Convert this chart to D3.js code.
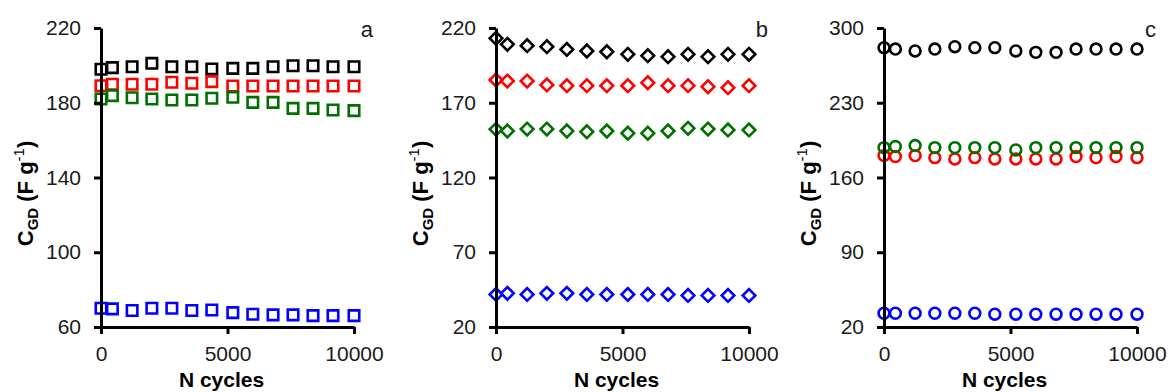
<!DOCTYPE html>
<html>
<head>
<meta charset="utf-8">
<script src="https://cdn.jsdelivr.net/npm/d3@7"></script>
<style>
  body { margin: 0; background: #fff; }
  svg { font-family: Arial, "Liberation Sans", sans-serif; }
</style>
</head>
<body>
<div id="chart"></div>
<script>
// cycle number of each measurement (same for all three panels)
const cycles = [0, 450, 1230, 2010, 2800, 3590, 4380, 5210, 6000, 6800, 7590, 8380, 9170, 10000];
const seriesColors = ["#000000", "#ff0000", "#007000", "#0000ff"];
const xTicks = [0, 5000, 10000];

// panel a (squares)
const aBlack = [197.9, 198.8, 199.3, 201.1, 199.3, 199.3, 198.1, 198.4, 198.4, 199.3, 199.8, 199.8, 199.3, 199.3];
const aRed   = [189.1, 189.9, 189.9, 189.9, 191.0, 190.4, 191.3, 189.0, 189.0, 189.0, 189.0, 189.0, 189.0, 189.0];
const aGreen = [182.0, 183.8, 182.7, 182.0, 181.5, 181.5, 182.4, 182.9, 180.2, 180.2, 177.0, 177.0, 176.1, 175.8];
const aBlue  = [70.0, 69.7, 68.8, 70.0, 70.0, 68.8, 69.1, 67.7, 66.8, 66.5, 66.5, 66.1, 66.1, 66.1];
const aTicks = [60, 100, 140, 180, 220];

// panel b (diamonds)
const bBlack = [213.1, 209.1, 208.2, 207.5, 205.7, 204.6, 204.1, 202.4, 201.5, 200.8, 202.4, 200.8, 202.4, 202.4];
const bRed   = [185.2, 184.5, 184.5, 181.9, 181.4, 181.4, 181.4, 181.4, 183.4, 181.4, 181.4, 180.7, 180.1, 181.4];
const bGreen = [152.2, 151.1, 152.4, 152.4, 151.1, 150.6, 151.1, 149.6, 149.6, 151.1, 152.9, 152.4, 151.8, 151.8];
const bBlue  = [41.8, 42.5, 41.8, 42.5, 42.5, 41.8, 41.8, 41.8, 41.8, 41.8, 41.1, 41.1, 41.1, 41.1];
const bTicks = [20, 70, 120, 170, 220];

// panel c (circles)
const cBlack = [281.6, 280.3, 278.5, 280.3, 282.5, 281.6, 281.6, 278.5, 277.2, 277.2, 280.3, 280.3, 280.3, 280.3];
const cRed   = [180.5, 179.6, 180.5, 178.6, 177.4, 178.6, 177.4, 177.4, 177.4, 177.4, 179.6, 178.6, 179.6, 178.6];
const cGreen = [188.0, 189.0, 189.9, 188.0, 188.0, 188.0, 188.0, 185.8, 188.0, 188.0, 188.0, 188.0, 188.0, 188.0];
const cBlue  = [32.9, 32.9, 32.9, 32.9, 32.9, 32.9, 32.0, 32.0, 32.0, 32.0, 32.0, 32.0, 32.0, 32.0];
const cTicks = [20, 90, 160, 230, 300];

const width = 1175, height = 392;
const plotTop = 28, plotBottom = 327;

const svg = d3.select("#chart").append("svg")
  .attr("width", width)
  .attr("height", height);

// diamonds are squares turned by 45 degrees
const panels = [
  { letter: "a", left: 101, ticks: aTicks, shape: d3.symbolSquare, size: 110, rot: 0,
    series: [aBlack, aRed, aGreen, aBlue] },
  { letter: "b", left: 496, ticks: bTicks, shape: d3.symbolSquare, size: 80, rot: 45,
    series: [bBlack, bRed, bGreen, bBlue] },
  { letter: "c", left: 884, ticks: cTicks, shape: d3.symbolCircle, size: 92, rot: 0,
    series: [cBlack, cRed, cGreen, cBlue] }
];

panels.forEach(p => {
  const g = svg.append("g");

  const x = d3.scaleLinear().domain([0, 10000]).range([p.left, p.left + 253]);
  const y = d3.scaleLinear().domain([p.ticks[0], p.ticks[p.ticks.length - 1]]).range([plotBottom, plotTop]);

  // markers
  p.series.forEach((vals, i) => {
    g.append("g")
      .selectAll("path")
      .data(vals)
      .join("path")
      .attr("transform", (d, j) => `translate(${x(cycles[j])},${y(d)}) rotate(${p.rot})`)
      .attr("d", d3.symbol().type(p.shape).size(p.size))
      .attr("fill", "none")
      .attr("stroke", seriesColors[i])
      .attr("stroke-width", 2.6);
  });

  const yAxis = g.append("g")
    .attr("transform", `translate(${p.left},0)`)
    .call(d3.axisLeft(y).tickValues(p.ticks).tickSize(7).tickPadding(13).tickSizeOuter(0));

  const xAxis = g.append("g")
    .attr("transform", `translate(0,${plotBottom})`)
    .call(d3.axisBottom(x).tickValues(xTicks).tickFormat(d3.format("d"))
      .tickSize(7).tickPadding(12).tickSizeOuter(0));

  [yAxis, xAxis].forEach(ax => {
    ax.select(".domain").attr("stroke", "#000").attr("stroke-width", 3);
    ax.selectAll(".tick line").attr("stroke", "#000").attr("stroke-width", 3);
    ax.selectAll(".tick text")
      .attr("fill", "#1a1a1a")
      .style("font-size", "21px")
      .style("font-family", "Arial, 'Liberation Sans', sans-serif");
  });

  // y axis title
  const yt = g.append("text")
    .attr("transform", `translate(${p.left - 68},${(plotTop + plotBottom) / 2 + 16}) rotate(-90)`)
    .attr("text-anchor", "middle")
    .style("font-size", "22px")
    .style("font-weight", "bold");
  yt.append("tspan").text("C");
  yt.append("tspan").attr("dy", 5).style("font-size", "15px").text("GD");
  yt.append("tspan").attr("dy", -5).text(" (F g");
  yt.append("tspan").attr("dy", -9).style("font-size", "15px").style("font-weight", "normal").text("-1");
  yt.append("tspan").attr("dy", 9).text(")");

  // x axis title
  g.append("text")
    .attr("x", x(5000) - 6)
    .attr("y", 387)
    .attr("text-anchor", "middle")
    .style("font-size", "21px")
    .style("font-weight", "bold")
    .text("N cycles");

  // panel letter
  g.append("text")
    .attr("x", p.left + 272)
    .attr("y", 37)
    .attr("text-anchor", "end")
    .style("font-size", "22px")
    .attr("fill", "#1a1a1a")
    .text(p.letter);
});
</script>
</body>
</html>
